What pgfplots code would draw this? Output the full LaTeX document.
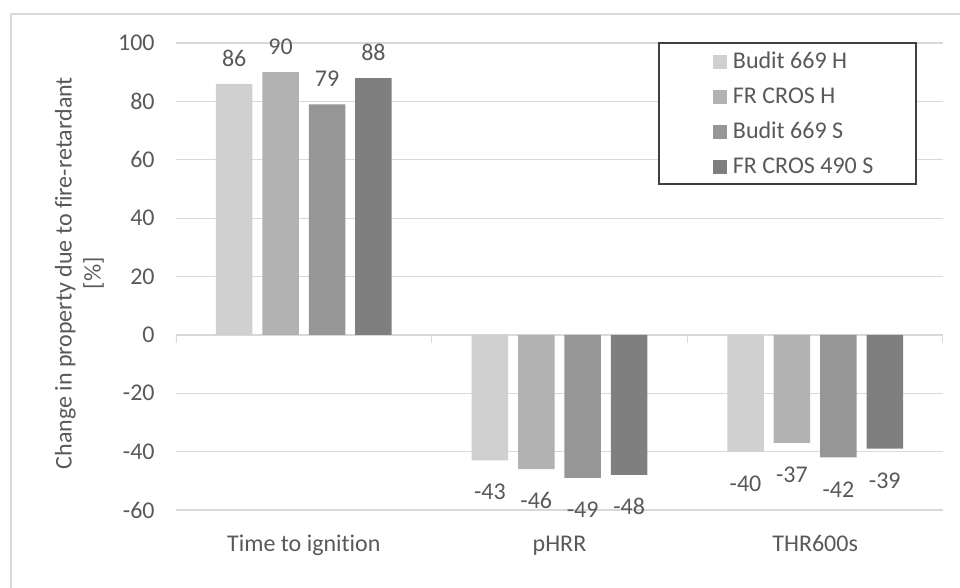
\documentclass[border=0pt]{standalone}
\usepackage{pgfplots}
\pgfplotsset{compat=1.18}
\usepackage{fontspec}
\setmainfont{Carlito}[Ligatures={NoCommon,NoContextual,NoRare}]

\definecolor{txt}{HTML}{595959}
\definecolor{gridc}{HTML}{D9D9D9}
\definecolor{barA}{HTML}{D0D0D0}
\definecolor{barB}{HTML}{B2B2B2}
\definecolor{barC}{HTML}{969696}
\definecolor{barD}{HTML}{7F7F7F}
\definecolor{boxc}{HTML}{404040}

\begin{document}
\begin{tikzpicture}
\fontsize{12}{14.5}\selectfont
% chart area frame
\draw[gridc, line width=0.75pt] (5.5pt,-20pt) -- (5.5pt,287pt) -- (520pt,287pt);
\begin{axis}[
  at={(88pt,39pt)}, anchor=south west,
  scale only axis, width=383.5pt, height=233.5pt,
  xmin=-0.5, xmax=2.5, ymin=-60, ymax=100,
  ytick={-60,-40,...,100},
  xtick={0,1,2},
  xticklabels={Time to igni\kern0pt tion, pHRR, THR600s},
  axis line style={draw=none},
  tick style={draw=none},
  major tick length=0pt,
  ymajorgrids, grid style={gridc, line width=0.6pt},
  /pgf/number format/assume math mode=true,
  tick label style={font=\fontsize{12}{14}\selectfont, text=txt},
  yticklabel style={inner xsep=0pt, xshift=-10.5pt},
  xticklabel style={anchor=base, yshift=-21pt},
  ylabel={Change in property due to fire-retardant\\{[}\%{]}},
  ylabel style={at={(axis description cs:-0.1258,0.507)}, anchor=center,
    align=center, font=\fontsize{12}{14.5}\selectfont, text=txt},
  ybar=4.95pt, bar width=18.25pt,
  nodes near coords,
  every node near coord/.append style={font=\fontsize{12}{14}\selectfont, text=txt,
    inner ysep=4pt, text height=15.6pt, text depth=4.5pt},
  legend image code/.code={\fill[#1] (0pt,-3.5pt) rectangle (7pt,3.5pt);},
  legend cell align=left,
  legend style={at={(axis description cs:0.7001,0.980)}, anchor=north west,
    draw=none, fill=none, inner sep=0pt, outer sep=0pt,
    row sep=7.5pt, column sep=3pt,
    font=\fontsize{12}{14}\selectfont, text=txt,
    nodes={inner sep=0pt, text height=8pt, text depth=2pt}},
]
% horizontal axis line at zero with category separators
\draw[gridc, line width=0.75pt] (axis cs:-0.5,0) -- (axis cs:2.5,0);
\draw[gridc, line width=0.75pt] (axis cs:-0.5,0) -- ([yshift=-4pt]axis cs:-0.5,0);
\draw[gridc, line width=0.75pt] (axis cs:0.5,0) -- ([yshift=-4pt]axis cs:0.5,0);
\draw[gridc, line width=0.75pt] (axis cs:1.5,0) -- ([yshift=-4pt]axis cs:1.5,0);
\draw[gridc, line width=0.75pt] (axis cs:2.5,0) -- ([yshift=-4pt]axis cs:2.5,0);
% legend frame
\draw[boxc, line width=0.75pt, fill=white]
  (axis description cs:0.6297,1) rectangle (axis description cs:0.9648,0.698);

\addplot[fill=barA, draw=none] coordinates {(0,86) (1,-43) (2,-40)};
\addlegendentry{Budit 669 H}
\addplot[fill=barB, draw=none] coordinates {(0,90) (1,-46) (2,-37)};
\addlegendentry{FR CROS H}
\addplot[fill=barC, draw=none] coordinates {(0,79) (1,-49) (2,-42)};
\addlegendentry{Budit 669 S}
\addplot[fill=barD, draw=none] coordinates {(0,88) (1,-48) (2,-39)};
\addlegendentry{FR CROS 490 S}
\end{axis}
\pgfresetboundingbox
\useasboundingbox (0,0) rectangle (480pt,294pt);
\end{tikzpicture}
\end{document}
